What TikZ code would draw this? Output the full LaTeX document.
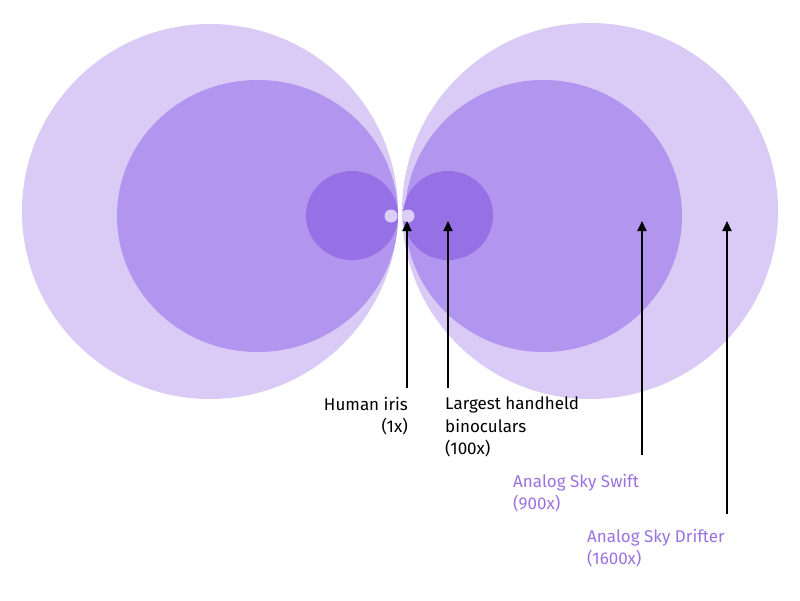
\documentclass[tikz,border=0pt]{standalone}
\usepackage{fontspec}
\setmainfont{Fira Sans}
\usetikzlibrary{arrows.meta}
\definecolor{lightlav}{HTML}{D9CBF5}
\definecolor{midlav}{HTML}{B195EE}
\definecolor{darklav}{HTML}{9670E5}
\definecolor{tinylav}{HTML}{DCCFF7}
\definecolor{txtpurple}{HTML}{9A72E0}
\tikzset{
  ptr/.style={line width=1.8pt,-{Triangle[width=9pt,length=10pt]}},
  lbl/.style={inner sep=0pt,font=\fontsize{17}{22.5}\selectfont},
}
\begin{document}
\begin{tikzpicture}[x=1pt,y=-1pt]
\useasboundingbox (0,0) rectangle (800,600);
% big circles
\fill[lightlav] (210,211.5) ellipse [x radius=188,y radius=187.5];
\fill[lightlav] (590,211) ellipse [x radius=188,y radius=188];
% medium
\fill[midlav] (257.5,216) ellipse [x radius=140.5,y radius=136];
\fill[midlav] (543.5,216) ellipse [x radius=138.5,y radius=136];
% small
\fill[darklav] (352,215.5) ellipse [x radius=46,y radius=44.5];
\fill[darklav] (448,215.5) ellipse [x radius=45,y radius=44.5];
% tiny
\fill[tinylav] (391,216) circle [radius=6.5];
\fill[tinylav] (408,216) circle [radius=6.5];
% labels
\node[lbl,anchor=north east,align=right] (iris) at (408,397) {Human iris\\(1x)};
\node[lbl,anchor=north west,align=left] (bino) at (445,397) {Largest handheld\\binoculars\\(100x)};
\node[lbl,anchor=north west,align=left,text=txtpurple] (swift) at (513,474) {Analog Sky Swift\\(900x)};
\node[lbl,anchor=north west,align=left,text=txtpurple] (drift) at (587,529) {Analog Sky Drifter\\(1600x)};
% arrow coordinates
\coordinate (a1b) at (407,388); \coordinate (a1t) at (407,221);
\coordinate (a2b) at (448,388); \coordinate (a2t) at (448,221);
\coordinate (a3b) at (642,455); \coordinate (a3t) at (642,221);
\coordinate (a4b) at (727,514); \coordinate (a4t) at (727,221);
\draw[ptr] (a1b) -- (a1t);
\draw[ptr] (a2b) -- (a2t);
\draw[ptr] (a3b) -- (a3t);
\draw[ptr] (a4b) -- (a4t);
\end{tikzpicture}
\end{document}
